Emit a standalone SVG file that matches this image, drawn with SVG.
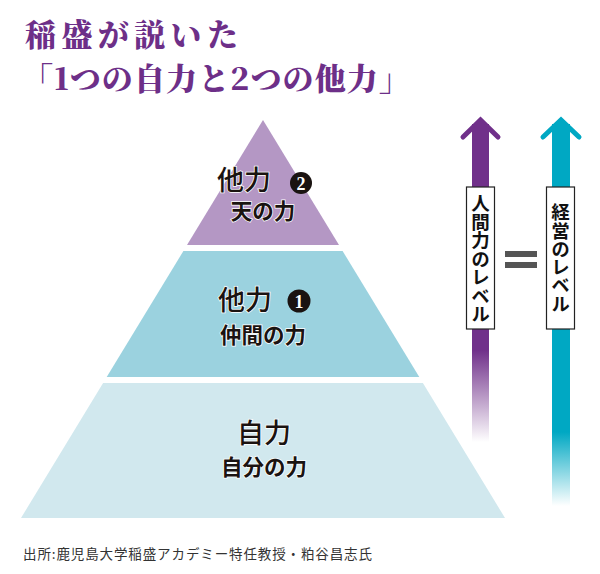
<svg xmlns="http://www.w3.org/2000/svg" width="600" height="574" viewBox="0 0 600 574">
<style>
.title{font-family:"Noto Serif CJK JP","Noto Sans CJK JP",serif;font-weight:800;font-size:31px;fill:#6d2f88;}
.main{font-family:"Noto Sans CJK JP",sans-serif;font-weight:500;font-size:27px;fill:#1a1311;stroke:#ffffff;stroke-width:1.5px;paint-order:stroke;}
.sub{font-family:"Noto Sans CJK JP",sans-serif;font-weight:700;font-size:21.5px;fill:#1a1311;text-anchor:middle;stroke:#ffffff;stroke-width:1.5px;paint-order:stroke;}
.dot{fill:#1a1311;}
.num{font-family:"Liberation Serif",serif;font-weight:700;font-size:18px;fill:#ffffff;text-anchor:middle;}
.vlabel{font-family:"Noto Sans CJK JP",sans-serif;font-weight:700;font-size:18.5px;fill:#111;writing-mode:vertical-rl;text-orientation:upright;text-anchor:middle;}
.box{fill:#ffffff;stroke:#222;stroke-width:1.2;}
.src{font-family:"Noto Sans CJK JP",sans-serif;font-size:13.5px;fill:#333;}
</style>
<defs>
<linearGradient id="gp" x1="0" y1="330" x2="0" y2="442" gradientUnits="userSpaceOnUse">
<stop offset="0" stop-color="#70308a"/>
<stop offset="0.18" stop-color="#70308a"/>
<stop offset="1" stop-color="#70308a" stop-opacity="0"/>
</linearGradient>
<linearGradient id="gt" x1="0" y1="330" x2="0" y2="506" gradientUnits="userSpaceOnUse">
<stop offset="0" stop-color="#00a8c3"/>
<stop offset="0.58" stop-color="#00a8c3"/>
<stop offset="1" stop-color="#00a8c3" stop-opacity="0"/>
</linearGradient>
</defs>
<rect width="600" height="574" fill="#ffffff"/>

<g id="title">
<text class="title" x="25" y="46" textLength="213" lengthAdjust="spacing">稲盛が説いた</text>
<text class="title" x="22" y="90" textLength="388" lengthAdjust="spacing">「1つの自力と2つの他力」</text>
</g>

<g id="tier-top">
<polygon points="263,120 339,245 187,245" fill="#b497c4"/>
<text class="main" x="217" y="190">他力</text>
<circle class="dot" cx="301" cy="183" r="11"/>
<text class="num" x="301" y="189.5">2</text>
<text class="sub" x="263" y="219">天の力</text>
</g>

<g id="tier-middle">
<polygon points="183.4,251 342.6,251 419.3,377 106.7,377" fill="#9bd2df"/>
<text class="main" x="218" y="310">他力</text>
<circle class="dot" cx="299" cy="301" r="11.5"/>
<text class="num" x="299" y="307.5">1</text>
<text class="sub" x="263" y="343">仲間の力</text>
</g>

<g id="tier-bottom">
<polygon points="103.1,383 422.9,383 505,518 21,518" fill="#d1e8ee"/>
<text class="main" x="237" y="443">自力</text>
<text class="sub" x="264" y="475">自分の力</text>
</g>

<g id="connectors">
<g id="arrow-human">
<rect x="472" y="124" width="17" height="318" fill="url(#gp)"/>
<polyline points="463,137 480.5,120 498,137" fill="none" stroke="#70308a" stroke-width="5" stroke-linecap="round" stroke-linejoin="miter"/>
<polygon points="480.5,121 489,129 489,140 472,140 472,129" fill="#70308a"/>
</g>
<g id="arrow-management">
<rect x="552" y="124" width="18" height="382" fill="url(#gt)"/>
<polyline points="543,137 561,120 579,137" fill="none" stroke="#00a8c3" stroke-width="5" stroke-linecap="round" stroke-linejoin="miter"/>
<polygon points="561,121 570,129 570,140 552,140 552,129" fill="#00a8c3"/>
</g>
</g>

<g id="label-human">
<rect class="box" x="466.5" y="187" width="28" height="142"/>
<text class="vlabel" x="480.5" y="258.5">人間力のレベル</text>
</g>

<g id="label-management">
<rect class="box" x="546.5" y="187" width="28" height="142"/>
<text class="vlabel" x="560.5" y="258" textLength="110" lengthAdjust="spacing">経営のレベル</text>
</g>

<g id="equals">
<rect x="505" y="251" width="32" height="6" fill="#555555"/>
<rect x="505" y="262" width="32" height="6" fill="#555555"/>
</g>

<g id="source">
<text class="src" x="23" y="559" textLength="349" lengthAdjust="spacing">出所:鹿児島大学稲盛アカデミー特任教授・粕谷昌志氏</text>
</g>
</svg>
